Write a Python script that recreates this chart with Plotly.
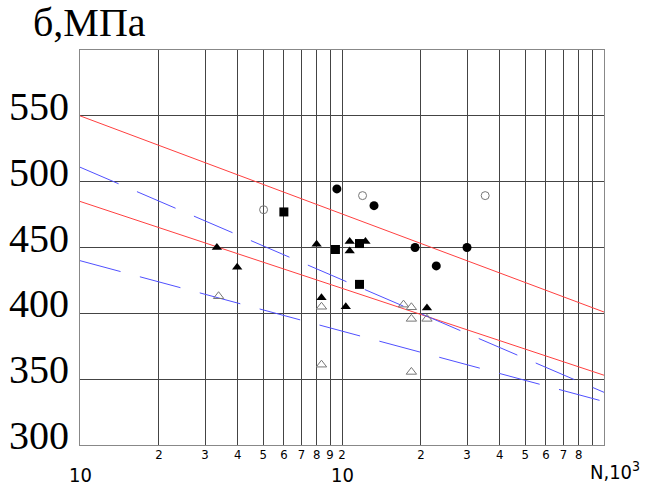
import plotly.graph_objects as go

# ---- data (N in 10^3 cycles, stress in MPa) ----
filled_circle_N = [95.6, 132.5, 190, 229, 300]
filled_circle_S = [494.5, 481.8, 450, 436, 450]

open_circle_N = [50.2, 119.8, 352]
open_circle_S = [478.7, 489.4, 489.4]

square_N = [60, 94.4, 116.6, 116.6]
square_S = [477, 448.5, 453, 422]

tri_N = [33.3, 39.8, 80, 83.5, 103.4, 107, 107, 122.9, 211]
tri_S = [450, 435, 452.5, 411.8, 405, 454.5, 447.4, 454.5, 404.1]

open_tri_N = [33.8, 83.5, 83.5, 171.7, 184, 184, 184, 211]
open_tri_S = [413, 405, 361, 406.6, 404.6, 395.8, 355.5, 395.8]

line_N = [10, 1000]
red_upper = [550, 401]
red_lower = [485, 353]
blue_upper = [511, 340]
blue_lower = [440, 333]

x_tickvals = [20, 30, 40, 50, 60, 70, 80, 90, 100,
              200, 300, 400, 500, 600, 700, 800]
x_ticktext = ["2", "3", "4", "5", "6", "7", "8", "9", "2",
              "2", "3", "4", "5", "6", "7", "8"]
x_minor_grid = [900]
y_tickvals = [300, 350, 400, 450, 500, 550]
y_ticktext = ["300", "350", "400", "450", "500", "550"]

fig = go.Figure()

fig.add_trace(go.Scatter(x=line_N, y=red_upper, mode="lines",
                         line=dict(color="#ff4040", width=1)))
fig.add_trace(go.Scatter(x=line_N, y=red_lower, mode="lines",
                         line=dict(color="#ff4040", width=1)))
fig.add_trace(go.Scatter(x=line_N, y=blue_upper, mode="lines",
                         line=dict(color="#5050ff", width=1, dash="42px,20px")))
fig.add_trace(go.Scatter(x=line_N, y=blue_lower, mode="lines",
                         line=dict(color="#5050ff", width=1, dash="42px,20px")))

fig.add_trace(go.Scatter(x=filled_circle_N, y=filled_circle_S, mode="markers",
                         marker=dict(symbol="circle", size=9, color="black")))
fig.add_trace(go.Scatter(x=open_circle_N, y=open_circle_S, mode="markers",
                         marker=dict(symbol="circle-open", size=8, color="#777",
                                     line=dict(width=1, color="#777"))))
fig.add_trace(go.Scatter(x=square_N, y=square_S, mode="markers",
                         marker=dict(symbol="square", size=9, color="black")))
fig.add_trace(go.Scatter(x=tri_N, y=tri_S, mode="markers",
                         marker=dict(symbol="triangle-up", size=9, color="black")))
fig.add_trace(go.Scatter(x=open_tri_N, y=open_tri_S, mode="markers",
                         marker=dict(symbol="triangle-up-open", size=9, color="#777",
                                     line=dict(width=1, color="#777"))))

cond = "DejaVu Sans Condensed, Liberation Sans Narrow, DejaVu Sans"
small_font = dict(family=cond, size=13, color="black")
serif_big = dict(family="Liberation Serif, Times New Roman, serif", size=40, color="black")

fig.update_layout(
    width=646, height=487,
    margin=dict(l=80, r=42, t=50, b=42),
    paper_bgcolor="white", plot_bgcolor="white",
    showlegend=False,
    xaxis=dict(type="log", range=[1, 3], tickmode="array",
               tickvals=x_tickvals, ticktext=x_ticktext,
               showgrid=True, gridcolor="#444", gridwidth=1,
               minor=dict(tickmode="array", tickvals=x_minor_grid, showgrid=True,
                          gridcolor="#444", gridwidth=1, ticks=""),
               showline=True, mirror=True, linecolor="#888", linewidth=1,
               ticks="", tickfont=small_font, ticklabelstandoff=-3,
               zeroline=False, automargin=False),
    yaxis=dict(range=[300, 600], tickmode="array",
               tickvals=y_tickvals, ticktext=y_ticktext,
               showgrid=True, gridcolor="#444", gridwidth=1,
               showline=True, mirror=True, linecolor="#888", linewidth=1,
               ticks="", tickfont=serif_big, ticklabelshift=-10,
               ticklabelstandoff=2, zeroline=False, automargin=False),
)

ann_font = dict(family=cond, size=20, color="black")
fig.add_annotation(x=1, y=0, xref="x", yref="paper", text="10", showarrow=False,
                   font=ann_font, yanchor="middle", yshift=-30)
fig.add_annotation(x=2, y=0, xref="x", yref="paper", text="10", showarrow=False,
                   font=ann_font, yanchor="middle", yshift=-30)
fig.add_annotation(x=1, y=0, xref="paper", yref="paper", text="N,10<sup>3</sup>",
                   showarrow=False, font=ann_font, xanchor="left", xshift=-16,
                   yanchor="middle", yshift=-26)
fig.add_annotation(x=0, y=1, xref="paper", yref="paper", text="б,МПа",
                   showarrow=False,
                   font=dict(family="Liberation Serif, Times New Roman, serif", size=40, color="black"),
                   xanchor="left", xshift=-49, yanchor="middle", yshift=28)

fig.write_html("out.html", config={"displayModeBar": False},
               post_script="document.body.style.margin='0';document.body.style.overflow='hidden';")
